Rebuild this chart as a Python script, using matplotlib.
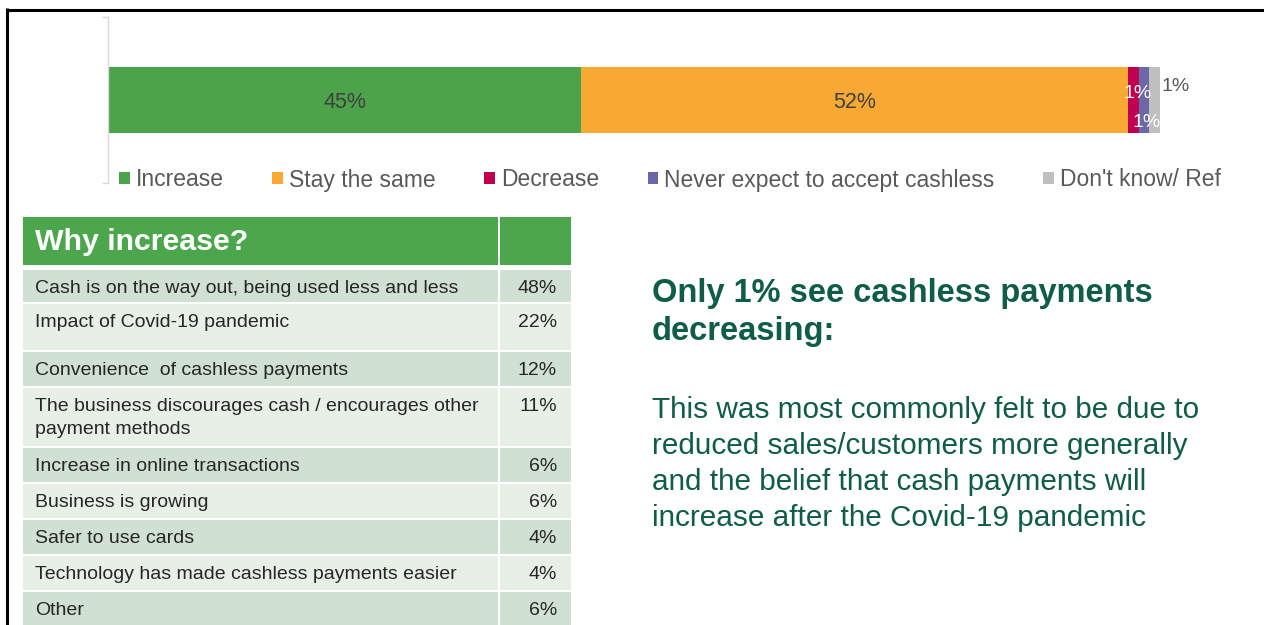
import matplotlib
matplotlib.use('Agg')
import matplotlib.pyplot as plt
from matplotlib.patches import Rectangle

plt.rcParams['font.family'] = ['Liberation Sans', 'DejaVu Sans']

# ---------------- data ----------------
categories = ['Increase', 'Stay the same', 'Decrease',
              'Never expect to accept cashless', "Don't know/ Ref"]
shares = [45, 52, 1, 1, 1]
share_labels = ['45%', '52%', '1%', '1%', '1%']
bar_colors = ['#4CA34A', '#F7A934', '#C0004F', '#6A68A6', '#BFBFBF']

table_title = 'Why increase?'
reasons = ['Cash is on the way out, being used less and less',
           'Impact of Covid-19 pandemic',
           'Convenience  of cashless payments',
           'The business discourages cash / encourages other\npayment methods',
           'Increase in online transactions',
           'Business is growing',
           'Safer to use cards',
           'Technology has made cashless payments easier',
           'Other']
reason_pct = ['48%', '22%', '12%', '11%', '6%', '6%', '4%', '4%', '6%']

headline = 'Only 1% see cashless payments\ndecreasing:'
body = ('This was most commonly felt to be due to\n'
        'reduced sales/customers more generally\n'
        'and the belief that cash payments will\n'
        'increase after the Covid-19 pandemic')

# ---------------- layout / styles ----------------
W, H = 1264, 625
fig = plt.figure(figsize=(W / 100, H / 100), dpi=100)
fig.patch.set_facecolor('white')

lay = fig.add_axes([0, 0, 1, 1])
lay.set_xlim(0, W)
lay.set_ylim(H, 0)
lay.axis('off')


def lines_text(x, y0, step, text, **kw):
    """Draw a multi-line string line by line, first baseline at y0."""
    for k, line in enumerate(text.split('\n')):
        lay.text(x, y0 + k * step, line, va='baseline', **kw)


# frame lines (left and top)
lay.plot([7, 7], [8, H], color='black', lw=2.2, solid_capstyle='butt')
lay.plot([6, W], [9.5, 9.5], color='black', lw=2.2, solid_capstyle='butt')

# ---------------- stacked bar ----------------
ax = fig.add_axes([108 / W, 1 - 183 / H, (1160 - 108) / W, (183 - 17) / H])
ax.set_facecolor('none')
left = 0
containers = []
for cat, val, col in zip(categories, shares, bar_colors):
    c = ax.barh(0, val, left=left, height=0.4, color=col, label=cat)
    containers.append(c)
    left += val
ax.set_xlim(0, sum(shares))
ax.set_ylim(-0.5, 0.5)
ax.set_xticks([])
ax.set_yticks([-0.5, 0.5])
ax.set_yticklabels([])
ax.tick_params(axis='y', length=4, color='#D9D9D9', width=1)
for s in ['top', 'right', 'bottom']:
    ax.spines[s].set_visible(False)
ax.spines['left'].set_color('#D9D9D9')
ax.spines['left'].set_linewidth(1)

# segment centres
cum = [sum(shares[:i]) + shares[i] / 2 for i in range(len(shares))]

# big labels centred
for i in range(2):
    ax.annotate(share_labels[i], xy=(cum[i], 0), xytext=(0, 0), textcoords='offset points',
                ha='center', va='center_baseline', fontsize=15.5, color='#404040')

# small labels
ax.annotate(share_labels[2], xy=(cum[2], 0), xytext=(2.5, 4.5), textcoords='offset points',
            ha='center', va='center', fontsize=14, color='white')
ax.annotate(share_labels[3], xy=(cum[3], 0), xytext=(1.5, -16.5), textcoords='offset points',
            ha='center', va='center', fontsize=14, color='white')
ax.annotate(share_labels[4], xy=(cum[4], 0), xytext=(15, 10), textcoords='offset points',
            ha='center', va='center', fontsize=14, color='#595959')

leg = ax.legend(handles=[c.patches[0] for c in containers], labels=categories,
                loc='center left', bbox_to_anchor=(119, 180), bbox_transform=lay.transData,
                ncol=5, frameon=False, fontsize=16.5, handlelength=0.47, handleheight=0.42,
                handletextpad=0.26, columnspacing=2.12, borderpad=0, borderaxespad=0)
for t in leg.get_texts():
    t.set_color('#595959')

# ---------------- table ----------------
tbl_x0, tbl_x1, tbl_x2, tbl_x3 = 23, 498, 500, 571
header_top, header_bot = 217, 265
hdr_green = '#4CA64C'
dark_row = '#D0E0D2'
light_row = '#E7EFE7'
row_heights = [32, 46, 34, 58, 34, 34, 34, 34, 36]
row_gap = 2
first_row_top = 270

lay.add_patch(Rectangle((tbl_x0, header_top), tbl_x1 - tbl_x0, header_bot - header_top,
                        facecolor=hdr_green, edgecolor='none'))
lay.add_patch(Rectangle((tbl_x2, header_top), tbl_x3 - tbl_x2, header_bot - header_top,
                        facecolor=hdr_green, edgecolor='none'))
lay.text(35, (header_top + header_bot) / 2 + 1, table_title, color='white', fontsize=21.8,
         fontweight='bold', ha='left', va='center')

top = first_row_top
for i, (reason, pct, rh) in enumerate(zip(reasons, reason_pct, row_heights)):
    col = dark_row if i % 2 == 0 else light_row
    lay.add_patch(Rectangle((tbl_x0, top), tbl_x1 - tbl_x0, rh, facecolor=col, edgecolor='none'))
    lay.add_patch(Rectangle((tbl_x2, top), tbl_x3 - tbl_x2, rh, facecolor=col, edgecolor='none'))
    lines_text(35, top + 23, 23, reason, fontsize=14, color='#262626', ha='left')
    lay.text(557, top + 23, pct, fontsize=14, color='#262626', ha='right', va='baseline')
    top += rh + row_gap

# ---------------- right-hand text ----------------
txt_col = '#0F5C47'
lines_text(652, 302, 38, headline, fontsize=23.5, fontweight='bold', color=txt_col, ha='left')
lines_text(652, 418, 36, body, fontsize=21.4, color=txt_col, ha='left')

fig.savefig('out.png', dpi=100, facecolor='white')
